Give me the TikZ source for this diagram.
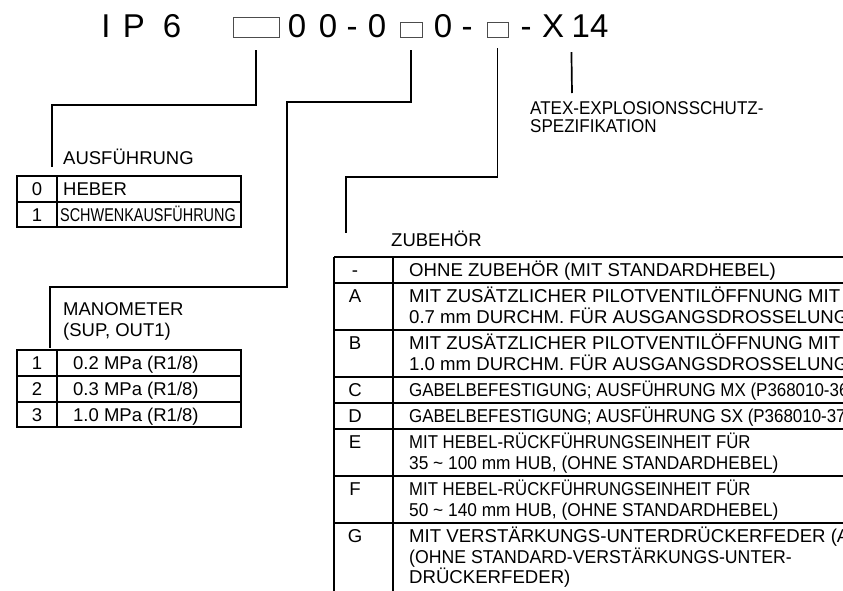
\documentclass[tikz,border=0pt]{standalone}
\usepackage{fontspec}
\setmainfont{Liberation Sans}
\tikzset{
  lead/.style={line width=1.7pt},
  grid/.style={line width=1.7pt},
  slot/.style={draw=black!70,line width=0.9pt,inner sep=0pt},
  big/.style={font=\fontsize{33}{36}\selectfont,anchor=base,inner sep=0pt},
  lbl/.style={font=\fontsize{18.5}{20}\selectfont,anchor=base west,inner sep=0pt},
  cell/.style={font=\fontsize{18.5}{20}\selectfont,inner sep=0pt,
    text height=13.3pt,text depth=0pt},
  wide cell/.style={cell,font=\fontsize{18.6}{20}\selectfont},
}

\begin{document}
\begin{tikzpicture}[x=1pt,y=-1pt]
  \useasboundingbox (0,0) rectangle (843,590);
  \clip (0,0) rectangle (843,590);

  % type code
  \foreach \s/\x [count=\i] in {I/106,P/134,6/172,0/297,0/328,-/352,0/377,
      0/443,-/467,-/526,X/553,14/590}
    \node[big] (c\i) at (\x,37) {\s};
  \node[slot,minimum width=46pt,minimum height=20pt] (b1) at (256,27) {};
  \node[slot,minimum width=22pt,minimum height=15pt] (b2) at (411,29.5) {};
  \node[slot,minimum width=21pt,minimum height=15pt] (b3) at (497.5,29.5) {};

  % labels
  \node[lbl] (lblA) at (63,164) {AUSFÜHRUNG};
  \node[lbl] (lblM) at (63,315) {MANOMETER};
  \node[lbl] (lblM2) at (63,336) {(SUP, OUT1)};
  \node[lbl] (lblZ) at (391,246) {ZUBEHÖR};
  \node[lbl] (lblX) at (530,114) {\scalebox{0.92}[1]{ATEX-EXPLOSIONSSCHUTZ-}};
  \node[lbl] (lblX2) at (530,132) {\scalebox{0.92}[1]{SPEZIFIKATION}};

  % leaders
  \coordinate (k1) at (52,105);
  \coordinate (e1) at (52,167);
  \coordinate (k2a) at (287,102);
  \coordinate (k2b) at (50,287);
  \coordinate (e2) at (50,348);
  \coordinate (k3) at (346,177);
  \coordinate (e3) at (346,233);
  \coordinate (e4) at (572,93);
  \draw[lead] ([yshift=-13pt]b1.south) |- (k1) -- (e1);
  \draw[lead] ([yshift=-13pt]b2.south) |- (k2a) |- (k2b) -- (e2);
  \draw[lead] ([yshift=-11pt]b3.south) |- (k3) -- (e3);
  \draw[lead] ([yshift=-15pt]c12.south west) -- (e4);

  % table ausfuehrung
  \draw[grid] (17,176) rectangle (241,227) (57,176) -- (57,227) (17,202) -- (241,202);
  \node[cell] (a0) at (37,189) {0};
  \node[cell,anchor=west] (a0t) at (63,189) {HEBER};
  \node[cell] (a1) at (37,214.5) {1};
  \node[cell,anchor=west] (a1t) at (60,214.5) {\scalebox{0.78}[1]{SCHWENKAUSFÜHRUNG}};

  % table manometer
  \draw[grid] (17,350) rectangle (241,427) (57,350) -- (57,427);
  \draw[grid] (17,376) -- (241,376) (17,402) -- (241,402);
  \foreach \c/\y/\s in {1/363/0.2,2/389/0.3,3/414.5/1.0}{
    \node[cell] (m\c) at (37,\y) {\c};
    \node[cell,anchor=west] (m\c t) at (73,\y) {\s{} MPa (R1/8)};
  }

  % table zubehoer
  \draw[grid] (334,257) -- (334,600) (393,257) -- (393,600);
  \foreach \c/\y [count=\i] in {-/257,A/283,B/330,C/377,D/403,E/429,F/476,G/523}{
    \draw[grid] (334,\y) -- (850,\y);
    \node[wide cell] (z\i) at (355,\y+13) {\c};
  }
  \foreach \y/\f/\s [count=\i] in {
      270/1/OHNE ZUBEHÖR (MIT STANDARDHEBEL),
      296/1/MIT ZUSÄTZLICHER PILOTVENTILÖFFNUNG MIT,
      316.5/1/0.7 mm DURCHM. FÜR AUSGANGSDROSSELUNG,
      343/1/MIT ZUSÄTZLICHER PILOTVENTILÖFFNUNG MIT,
      363.5/1/1.0 mm DURCHM. FÜR AUSGANGSDROSSELUNG,
      390/0.91/GABELBEFESTIGUNG; AUSFÜHRUNG MX (P368010-36,
      416/0.91/GABELBEFESTIGUNG; AUSFÜHRUNG SX (P368010-37,
      442/0.9/MIT HEBEL-RÜCKFÜHRUNGSEINHEIT FÜR,
      462.5/0.93/{35 \textasciitilde{} 100 mm HUB, (OHNE STANDARDHEBEL)},
      489/0.9/MIT HEBEL-RÜCKFÜHRUNGSEINHEIT FÜR,
      509.5/0.93/{50 \textasciitilde{} 140 mm HUB, (OHNE STANDARDHEBEL)},
      536/1/MIT VERSTÄRKUNGS-UNTERDRÜCKERFEDER (A,
      556.5/0.95/(OHNE STANDARD-VERSTÄRKUNGS-UNTER-,
      577/1/DRÜCKERFEDER)}
    \node[wide cell,anchor=west] (zt\i) at (409,\y) {\scalebox{\f}[1]{\s}};
\end{tikzpicture}
\end{document}
